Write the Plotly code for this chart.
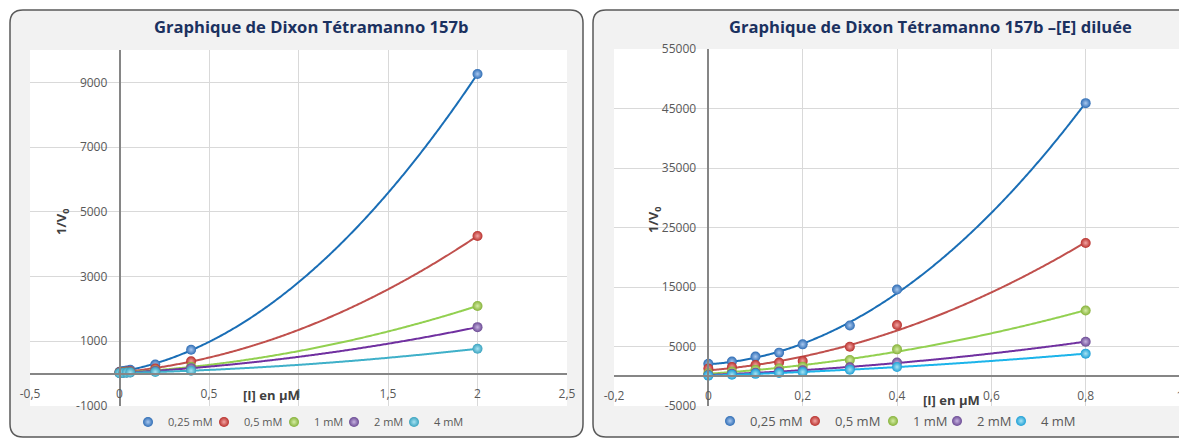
import numpy as np
import plotly.graph_objects as go

# page body has an 8px default margin: figure is drawn from (8, 8)
OFF = 8
WIN_W, WIN_H = 1187, 439
W, H = WIN_W - OFF, WIN_H - OFF

# ---------------- data ----------------
series_names = ["0,25 mM", "0,5 mM", "1 mM", "2 mM", "4 mM"]

# left chart: Graphique de Dixon Tétramanno 157b
x_left = [0, 0.02, 0.04, 0.06, 0.2, 0.4, 2]
y_left_025 = [60, 80, 100, 120, 280, 740, 9260]
y_left_05 = [40, 52, 63, 75, 160, 380, 4255]
y_left_1 = [30, 36, 42, 48, 100, 210, 2092]
y_left_2 = [20, 27, 33, 40, 85, 170, 1436]
y_left_4 = [15, 21, 27, 33, 50, 90, 770]

# right chart: Graphique de Dixon Tétramanno 157b –[E] diluée
x_right = [0, 0.05, 0.1, 0.15, 0.2, 0.3, 0.4, 0.8]
y_right_025 = [2100, 2460, 3300, 3970, 5360, 8540, 14570, 45900]
y_right_05 = [1300, 1550, 1900, 2290, 2560, 4970, 8600, 22400]
y_right_1 = [500, 800, 1100, 1300, 1600, 2740, 4520, 11050]
y_right_2 = [200, 400, 600, 800, 1000, 1500, 2290, 5810]
y_right_4 = [100, 250, 400, 550, 700, 1100, 1560, 3800]

left_x_ticks = [-0.5, 0, 0.5, 1, 1.5, 2, 2.5]
left_x_ticktext = ["-0,5", "0", "0,5", "1", "1,5", "2", "2,5"]
left_y_ticks = [-1000, 1000, 3000, 5000, 7000, 9000]
left_y_ticktext = ["-1000", "1000", "3000", "5000", "7000", "9000"]

right_x_ticks = [-0.2, 0, 0.2, 0.4, 0.6, 0.8, 1]
right_x_ticktext = ["-0,2", "0", "0,2", "0,4", "0,6", "0,8", "1"]
right_y_ticks = [-5000, 5000, 15000, 25000, 35000, 45000, 55000]
right_y_ticktext = ["-5000", "5000", "15000", "25000", "35000", "45000", "55000"]

left_series = [y_left_025, y_left_05, y_left_1, y_left_2, y_left_4]
right_series = [y_right_025, y_right_05, y_right_1, y_right_2, y_right_4]

# ---------------- styles ----------------
marker_colors_left = ["#2f6db5", "#b8302c", "#86b23a", "#6b4a94", "#3aa3bf"]
marker_colors_right = ["#2f6db5", "#b8302c", "#86b23a", "#6b4a94", "#1d9fd6"]
marker_highlight = ["#a9c8ef", "#f2a5a3", "#d6eda6", "#c6b2e0", "#a8e3f3"]
line_colors_left = ["#1a6eb6", "#c0504d", "#92d050", "#7030a0", "#3fb0c9"]
line_colors_right = ["#1a6eb6", "#c0504d", "#92d050", "#7030a0", "#1cb4ea"]

FONT = "Open Sans"
TICK_COLOR = "#595959"
GRID = "#d9d9d9"
AXIS_LINE = "#868686"

# pixel geometry in the window (screenshot) coordinates
L_X = (30, 567); L_Y = (50, 406)
R_X = (614, 1180); R_Y = (49, 406)
left_xrange = [-0.5, 2.5]; left_yrange = [-1000, 10000]
right_xrange = [-0.2, 1.0]; right_yrange = [-5000, 55000]

# legend symbol centre positions (px) for each entry
left_legend_dots = [148, 224, 294, 354, 414]
right_legend_dots = [730, 815, 893, 957, 1021]
LEFT_LEGEND_Y, RIGHT_LEGEND_Y = 422, 421
LEGEND_SYMBOL_OFFSET = 20  # legend box left edge -> symbol centre


def fx(px):
    return (px - OFF) / W


def fy(py):
    return 1 - (py - OFF) / H


fig = go.Figure()

legend_layouts = {}


def legend_key(n):
    return "legend" if n == 1 else f"legend{n}"


def add_chart(xs, series, mcolors, lcolors, xa, ya, first_legend, dots, ly, fsize):
    for i, ys in enumerate(series):
        coef = np.polyfit(xs, ys, 2)
        xf = np.linspace(0, max(xs), 300)
        yf = np.polyval(coef, xf)
        fig.add_trace(go.Scatter(
            x=xf, y=yf, mode="lines", xaxis=xa, yaxis=ya,
            line=dict(color=lcolors[i], width=2, simplify=False),
            showlegend=False, hoverinfo="skip"))
    for i, ys in enumerate(series):
        key = legend_key(first_legend + i)
        fig.add_trace(go.Scatter(
            x=xs, y=ys, mode="markers", name=series_names[i],
            xaxis=xa, yaxis=ya, legend=key,
            marker=dict(size=10, color=mcolors[i],
                        gradient=dict(type="radial", color=marker_highlight[i]),
                        line=dict(width=0))))
        legend_layouts[key] = dict(
            orientation="h", x=fx(dots[i] - LEGEND_SYMBOL_OFFSET), xanchor="left",
            y=fy(ly), yanchor="middle", bgcolor="rgba(0,0,0,0)", itemwidth=30,
            font=dict(family=FONT, size=fsize, color=TICK_COLOR))


add_chart(x_left, left_series, marker_colors_left, line_colors_left, "x", "y",
          1, left_legend_dots, LEFT_LEGEND_Y, 11)
add_chart(x_right, right_series, marker_colors_right, line_colors_right, "x2", "y2",
          6, right_legend_dots, RIGHT_LEGEND_Y, 13)


def axis_pos(dom, rng, v):
    return dom[0] + (v - rng[0]) / (rng[1] - rng[0]) * (dom[1] - dom[0])


Ldx = [fx(L_X[0]), fx(L_X[1])]; Ldy = [fy(L_Y[1]), fy(L_Y[0])]
Rdx = [fx(R_X[0]), fx(R_X[1])]; Rdy = [fy(R_Y[1]), fy(R_Y[0])]

common_axis = dict(showgrid=True, gridcolor=GRID, gridwidth=1, zeroline=False,
                   showline=True, linecolor=AXIS_LINE, linewidth=1.5,
                   tickfont=dict(family=FONT, size=12, color=TICK_COLOR),
                   ticks="", tickmode="array", fixedrange=True)

fig.update_layout(
    xaxis=dict(domain=Ldx, range=left_xrange, anchor="free",
               position=axis_pos(Ldy, left_yrange, 0),
               tickvals=left_x_ticks, ticktext=left_x_ticktext,
               ticklabelstandoff=9, **common_axis),
    yaxis=dict(domain=Ldy, range=left_yrange, anchor="free",
               position=axis_pos(Ldx, left_xrange, 0),
               tickvals=left_y_ticks, ticktext=left_y_ticktext,
               ticklabelstandoff=9, **common_axis),
    xaxis2=dict(domain=Rdx, range=right_xrange, anchor="free",
                position=axis_pos(Rdy, right_yrange, 0),
                tickvals=right_x_ticks, ticktext=right_x_ticktext,
                ticklabelstandoff=9, **common_axis),
    yaxis2=dict(domain=Rdy, range=right_yrange, anchor="free",
                position=axis_pos(Rdx, right_xrange, 0),
                tickvals=right_y_ticks, ticktext=right_y_ticktext,
                ticklabelstandoff=9, **common_axis),
)


def rounded_path(x0, y0, x1, y1, r):
    # pixel box -> paper path with rounded corners
    return (f"M {fx(x0 + r)} {fy(y0)} L {fx(x1 - r)} {fy(y0)} "
            f"Q {fx(x1)} {fy(y0)} {fx(x1)} {fy(y0 + r)} "
            f"L {fx(x1)} {fy(y1 - r)} Q {fx(x1)} {fy(y1)} {fx(x1 - r)} {fy(y1)} "
            f"L {fx(x0 + r)} {fy(y1)} Q {fx(x0)} {fy(y1)} {fx(x0)} {fy(y1 - r)} "
            f"L {fx(x0)} {fy(y0 + r)} Q {fx(x0)} {fy(y0)} {fx(x0 + r)} {fy(y0)} Z")


shapes = [
    dict(type="path", xref="paper", yref="paper", layer="below",
         path=rounded_path(10, 10, 583, 437, 13),
         fillcolor="#f2f2f2", line=dict(color="#5a5a5a", width=1.5)),
    dict(type="path", xref="paper", yref="paper", layer="below",
         path=rounded_path(593, 10, 1200, 437, 13),
         fillcolor="#f2f2f2", line=dict(color="#5a5a5a", width=1.5)),
    dict(type="rect", xref="paper", yref="paper", layer="below",
         x0=Ldx[0], x1=Ldx[1], y0=Ldy[0], y1=Ldy[1],
         fillcolor="white", line=dict(width=0)),
    dict(type="rect", xref="paper", yref="paper", layer="below",
         x0=Rdx[0], x1=Rdx[1], y0=Rdy[0], y1=Rdy[1],
         fillcolor="white", line=dict(width=0)),
]

TITLE_COLOR = "#1b3160"
AX_TITLE_COLOR = "#404040"
annotations = [
    dict(text="<b>Graphique de Dixon Tétramanno 157b</b>", x=fx(311), y=fy(26),
         font=dict(family=FONT, size=16.6, color=TITLE_COLOR)),
    dict(text="<b>Graphique de Dixon Tétramanno 157b –[E] diluée</b>", x=fx(930), y=fy(26),
         font=dict(family=FONT, size=16.6, color=TITLE_COLOR)),
    dict(text="<b>1/V<sub>0</sub></b>", x=fx(62), y=fy(222), textangle=-90,
         font=dict(family=FONT, size=13, color=AX_TITLE_COLOR)),
    dict(text="<b>1/V<sub>0</sub></b>", x=fx(654), y=fy(220), textangle=-90,
         font=dict(family=FONT, size=13, color=AX_TITLE_COLOR)),
    dict(text="<b>[I] en µM</b>", x=fx(271), y=fy(395),
         font=dict(family=FONT, size=13, color=AX_TITLE_COLOR)),
    dict(text="<b>[I] en µM</b>", x=fx(951), y=fy(400),
         font=dict(family=FONT, size=13, color=AX_TITLE_COLOR)),
]
for a in annotations:
    a.update(xref="paper", yref="paper", showarrow=False, xanchor="center", yanchor="middle")

fig.update_layout(
    width=W, height=H,
    margin=dict(l=0, r=0, t=0, b=0, pad=0, autoexpand=False),
    paper_bgcolor="white", plot_bgcolor="rgba(0,0,0,0)",
    shapes=shapes, annotations=annotations,
    hovermode=False,
    **legend_layouts,
)

fig.write_html("out.html")
